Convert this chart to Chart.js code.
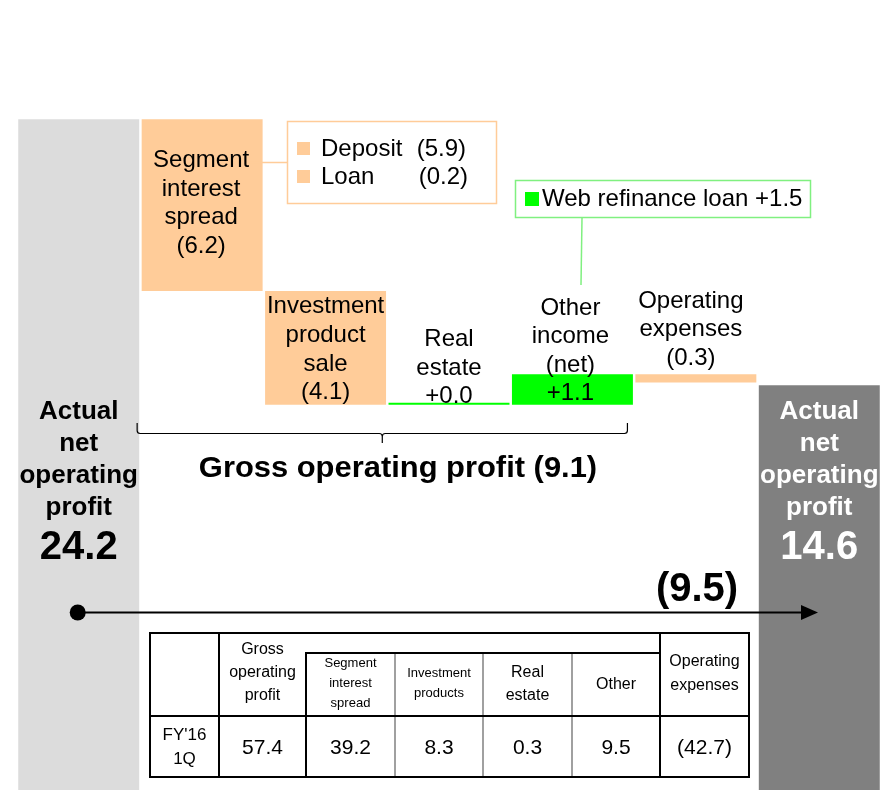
<!DOCTYPE html>
<html><head><meta charset="utf-8">
<script src="https://cdn.jsdelivr.net/npm/chart.js@4.4.1/dist/chart.umd.min.js"></script>
<style>
html,body{margin:0;padding:0;background:#fff;}
#wrap{position:relative;width:884px;height:790px;overflow:hidden;font-family:"Liberation Sans",Arial,sans-serif;}
#c{position:absolute;left:0;top:0;}
.cell{position:absolute;display:flex;align-items:center;justify-content:center;text-align:center;color:#000;box-sizing:border-box;}
.ln{position:absolute;}
</style></head>
<body><div id="wrap"><canvas id="c" width="884" height="790"></canvas><div id="tbl"></div></div>
<script>
// ---------- data ----------
const categories = ['Actual net operating profit (start)', 'Segment interest spread', 'Investment product sale', 'Real estate', 'Other income (net)', 'Operating expenses', 'Actual net operating profit (end)'];
const steps = [24.2, -6.2, -4.1, 0.0, 1.1, -0.3, 14.6];
const isTotal = [true, false, false, false, false, false, true];
const barLabelText = [
  ['Actual', 'net', 'operating', 'profit'],
  ['Segment', 'interest', 'spread'],
  ['Investment', 'product', 'sale'],
  ['Real', 'estate'],
  ['Other', 'income', '(net)'],
  ['Operating', 'expenses'],
  ['Actual', 'net', 'operating', 'profit']
];
const segmentItems = ['Deposit', 'Loan'];
const segmentValues = [-5.9, -0.2];
const otherItems = ['Web refinance loan'];
const otherValues = [1.5];
const grossLabel = 'Gross operating profit';
const grossChange = -9.1;
const totalChange = -9.5;
const tableColumns = [['Gross', 'operating', 'profit'], ['Segment', 'interest', 'spread'], ['Investment', 'products'], ['Real', 'estate'], ['Other'], ['Operating', 'expenses']];
const tableRowLabel = ["FY'16", '1Q'];
const tableValues = [57.4, 39.2, 8.3, 0.3, 9.5, -42.7];

// ---------- helpers ----------
const fmt = v => v < 0 ? '(' + Math.abs(v).toFixed(1) + ')' : v.toFixed(1);
const fmtDelta = v => v < 0 ? '(' + Math.abs(v).toFixed(1) + ')' : '+' + v.toFixed(1);

let run = 0;
const ranges = steps.map((v, i) => {
  if (isTotal[i]) { run = v; return [0, v]; }
  const s = run; run = Math.round((run + v) * 10) / 10; return [s, run];
});
const barColors = ['#DCDCDC', '#FFCC99', '#FFCC99', '#00FF00', '#00FF00', '#FFCC99', '#808080'];
const FONT = '"Liberation Sans", Arial, sans-serif';

const annot = {
  id: 'annot',
  afterDatasetsDraw(chart) {
    const { ctx, scales: { x } } = chart;
    const xc = i => x.getPixelForValue(i);
    const txt = (s, cx, cy, size, bold, color, align) => {
      ctx.font = (bold ? 'bold ' : '') + size + 'px ' + FONT;
      ctx.fillStyle = color; ctx.textAlign = align || 'center'; ctx.textBaseline = 'middle';
      ctx.fillText(s, cx, cy);
    };
    const lines = (arr, cx, ys, size, bold, color) => arr.forEach((s, k) => txt(s, cx, ys[k], size, bold, color));
    ctx.save();
    // totals
    const totYs = [412, 444, 476, 508];
    lines(barLabelText[0], xc(0), totYs, 26, true, '#000');
    txt(steps[0].toFixed(1), xc(0), 548, 40, true, '#000');
    lines(barLabelText[6], xc(6), totYs, 26, true, '#fff');
    txt(steps[6].toFixed(1), xc(6), 548, 40, true, '#fff');
    // deltas
    lines(barLabelText[1].concat([fmtDelta(steps[1])]), xc(1) - 1, [160, 189, 217, 246], 24, false, '#000');
    lines(barLabelText[2].concat([fmtDelta(steps[2])]), xc(2), [306, 335, 364, 392], 24, false, '#000');
    lines(barLabelText[3].concat([fmtDelta(steps[3])]), xc(3), [339, 368, 396], 24, false, '#000');
    lines(barLabelText[4], xc(4) - 2, [308, 336, 365], 24, false, '#000');
    txt(fmtDelta(steps[4]), xc(4) - 2, 393, 24, false, '#000');
    lines(barLabelText[5].concat([fmtDelta(steps[5])]), xc(5) - 5, [301, 329, 358], 24, false, '#000');

    // segment breakdown box
    ctx.strokeStyle = '#FFCC99'; ctx.lineWidth = 1.5;
    ctx.strokeRect(287.5, 121.5, 209, 82);
    ctx.beginPath(); ctx.moveTo(250, 162.5); ctx.lineTo(287, 162.5); ctx.stroke();
    const segYs = [149, 177];
    segmentItems.forEach((s, k) => {
      ctx.fillStyle = '#FFCC99'; ctx.fillRect(297, segYs[k] - 7, 13, 13);
      txt(s, 321, segYs[k], 24, false, '#000', 'left');
      txt(fmt(segmentValues[k]), 466 + k * 2, segYs[k], 24, false, '#000', 'right');
    });
    // other breakdown box
    ctx.strokeStyle = '#80F080'; ctx.lineWidth = 1.5;
    ctx.strokeRect(515.5, 180.5, 295, 37);
    ctx.beginPath(); ctx.moveTo(582, 218); ctx.lineTo(581, 285); ctx.stroke();
    ctx.fillStyle = '#00FF00'; ctx.fillRect(525, 192, 14, 14);
    txt(otherItems[0] + ' ' + fmtDelta(otherValues[0]), 542, 199, 24, false, '#000', 'left');

    // brace
    ctx.strokeStyle = '#000'; ctx.lineWidth = 1.2;
    const bx1 = xc(1) - 65, bx2 = xc(4) + 55, bm = (bx1 + bx2) / 2, by = 433.5;
    ctx.beginPath();
    ctx.moveTo(bx1, 423); ctx.lineTo(bx1, by - 3); ctx.quadraticCurveTo(bx1, by, bx1 + 3, by);
    ctx.lineTo(bm - 3, by); ctx.quadraticCurveTo(bm, by, bm, by + 3); ctx.lineTo(bm, 443);
    ctx.moveTo(bm, by + 3); ctx.quadraticCurveTo(bm, by, bm + 3, by);
    ctx.lineTo(bx2 - 3, by); ctx.quadraticCurveTo(bx2, by, bx2, by - 3); ctx.lineTo(bx2, 423);
    ctx.stroke();
    ctx.save();
    ctx.translate(398, 469); ctx.scale(1.03, 1);
    txt(grossLabel + ' ' + fmt(grossChange), 0, 0, 30, true, '#000');
    ctx.restore();

    // arrow
    ctx.strokeStyle = '#000'; ctx.lineWidth = 2;
    ctx.beginPath(); ctx.moveTo(xc(0), 612.5); ctx.lineTo(805, 612.5); ctx.stroke();
    ctx.fillStyle = '#000';
    ctx.beginPath(); ctx.arc(xc(0) - 1, 612.5, 8, 0, Math.PI * 2); ctx.fill();
    ctx.beginPath(); ctx.moveTo(818, 612.5); ctx.lineTo(801, 605); ctx.lineTo(801, 620); ctx.closePath(); ctx.fill();
    txt(fmt(totalChange), 697, 590, 40, true, '#000');
    ctx.restore();
  }
};

new Chart(document.getElementById('c'), {
  type: 'bar',
  data: { labels: categories, datasets: [{ data: ranges, backgroundColor: barColors, barPercentage: 0.98, categoryPercentage: 1, minBarLength: 2, borderWidth: 0 }] },
  options: {
    responsive: false, animation: false, devicePixelRatio: 1,
    layout: { padding: { left: 17, right: 3, top: 0, bottom: 0 } },
    plugins: { legend: { display: false }, tooltip: { enabled: false } },
    scales: { x: { display: false }, y: { display: false, min: 0, max: 28.5 } }
  },
  plugins: [annot]
});

// ---------- table ----------
(function () {
  const t = document.getElementById('tbl');
  const cx = [150, 219, 306, 395, 483, 572, 660, 749];
  const yTop = 633, ySub = 653, yMid = 716, yBot = 777;
  const add = (html, l, tp, w, h, size, lh, extra) => {
    const d = document.createElement('div'); d.className = 'cell';
    d.style.cssText = `left:${l}px;top:${tp}px;width:${w}px;height:${h}px;font-size:${size}px;line-height:${lh}px;` + (extra || '');
    d.innerHTML = html; t.appendChild(d);
  };
  const line = (l, tp, w, h, c) => {
    const d = document.createElement('div'); d.className = 'ln';
    d.style.cssText = `left:${l}px;top:${tp}px;width:${w}px;height:${h}px;background:${c};`; t.appendChild(d);
  };
  // headers
  add(tableColumns[0].join('<br>'), cx[1], yTop, cx[2] - cx[1], yMid - yTop, 16, 23, 'padding-bottom:6px;');
  const subSizes = [13, 13, 16, 16], subLh = [20, 20, 23, 23];
  for (let k = 1; k <= 4; k++) add(tableColumns[k].join('<br>'), cx[k + 1], ySub, cx[k + 2] - cx[k + 1], yMid - ySub, subSizes[k - 1], subLh[k - 1], 'padding-bottom:3px;');
  add(tableColumns[5].join('<br>'), cx[6], yTop, cx[7] - cx[6], yMid - yTop, 16, 24, 'padding-bottom:4px;');
  // data row
  add(tableRowLabel.join('<br>'), cx[0], yMid, cx[1] - cx[0], yBot - yMid, 17, 24);
  tableValues.forEach((v, k) => add(fmt(v), cx[k + 1], yMid, cx[k + 2] - cx[k + 1], yBot - yMid, 21, 24));
  // grey inner dividers
  [cx[3], cx[4], cx[5]].forEach(xx => line(xx - 1, ySub, 2, yBot - ySub, '#A0A0A0'));
  // black lines
  const B = '#000';
  line(cx[0] - 1, yTop - 1, cx[7] - cx[0] + 2, 2, B);
  line(cx[0] - 1, yBot - 1, cx[7] - cx[0] + 2, 2, B);
  line(cx[0] - 1, yTop - 1, 2, yBot - yTop + 2, B);
  line(cx[7] - 1, yTop - 1, 2, yBot - yTop + 2, B);
  line(cx[1] - 1, yTop - 1, 2, yBot - yTop + 2, B);
  line(cx[6] - 1, yTop - 1, 2, yBot - yTop + 2, B);
  line(cx[2] - 1, ySub - 1, 2, yBot - ySub + 2, B);
  line(cx[2] - 1, ySub - 1, cx[6] - cx[2] + 2, 2, B);
  line(cx[0] - 1, yMid - 1, cx[7] - cx[0] + 2, 2, B);
})();
</script>
</body></html>
